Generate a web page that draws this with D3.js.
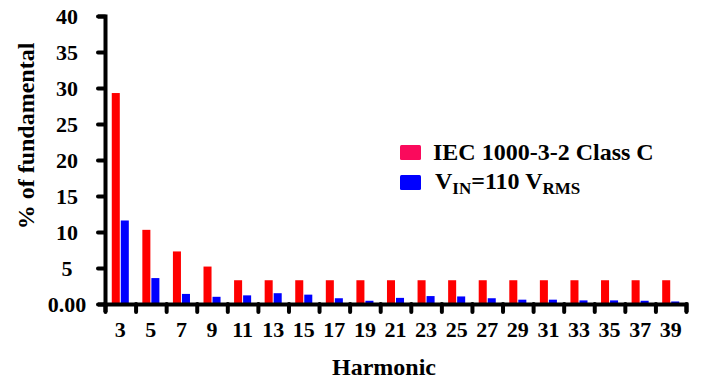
<!DOCTYPE html>
<html>
<head>
<meta charset="utf-8">
<script src="https://cdn.jsdelivr.net/npm/d3@7"></script>
<style>
  body { margin: 0; background: #fff; }
</style>
</head>
<body>
<svg class="chart" width="702" height="384"></svg>
<script>
// harmonic orders on the x axis
const harmonics = [3,5,7,9,11,13,15,17,19,21,23,25,27,29,31,33,35,37,39]
// IEC 1000-3-2 Class C limits (% of fundamental)
const iecLimit = [29.3,10.3,7.3,5.2,3.3,3.3,3.3,3.3,3.3,3.3,3.3,3.3,3.3,3.3,3.3,3.3,3.3,3.3,3.3]
// measured at VIN = 110 VRMS
const vinMeasured = [11.6,3.6,1.4,1.0,1.2,1.5,1.3,0.8,0.45,0.85,1.1,1.05,0.8,0.6,0.6,0.5,0.5,0.45,0.35]
const yTicks = [0,5,10,15,20,25,30,35,40]
const seriesKeys = ["iec","vin"]

const FONT = "Liberation Serif"
const margin = {top: 16, right: 16, bottom: 80, left: 105}
const width = 686 - margin.left,
      height = 304 - margin.top;

let svg = d3.select(".chart")
let chart = svg.append("g")
    .attr("transform", "translate(" + margin.left + "," + margin.top + ")");

let x = d3.scaleBand()//one band per harmonic, ticks sit on band edges
    .domain(harmonics)
    .range([0, width])
    .padding(0);
let x1 = d3.scaleBand()//red and blue bar inside a band
    .domain(seriesKeys)
    .range([0, x.bandwidth()])
    .paddingInner(0.11)
    .paddingOuter(0.75);
let xEdge = d3.scaleLinear()
    .domain([0, harmonics.length])
    .range([0, width]);
let y = d3.scaleLinear()
    .domain([0, 40])
    .range([height, 0]);

const colors = {iec: "#ff0000", vin: "#0000ff"}
const legendColors = {iec: "#fa0a5c", vin: "#0000ff"}

let groups = chart.selectAll("g.h")
    .data(harmonics.map((h, i) => ({h: h, iec: iecLimit[i], vin: vinMeasured[i]})))
    .enter().append("g")
    .attr("class", "h")
    .attr("transform", d => "translate(" + x(d.h) + ",0)");
groups.selectAll("rect")
    .data(d => seriesKeys.map(k => ({key: k, value: d[k]})))
    .enter().append("rect")
    .attr("x", d => x1(d.key))
    .attr("y", d => y(d.value))
    .attr("width", x1.bandwidth())
    .attr("height", d => height - y(d.value))
    .attr("fill", d => colors[d.key]);

// y axis, labels centred in the left margin like the original
let yAxis = chart.append("g")
    .call(d3.axisLeft(y).tickValues(yTicks).tickSize(7)
      .tickFormat(d => d === 0 ? "0.00" : d));
yAxis.selectAll(".tick text").attr("x", -38).attr("text-anchor", "middle");
// x axis: tick marks on band edges, labels at band centres
let xTickAxis = chart.append("g")
    .attr("transform", "translate(0," + height + ")")
    .call(d3.axisBottom(xEdge).tickValues(d3.range(harmonics.length + 1)).tickSize(8).tickFormat(""));
let xLabelAxis = chart.append("g")
    .attr("transform", "translate(0," + height + ")")
    .call(d3.axisBottom(x).tickSize(0).tickPadding(17));
xLabelAxis.select(".domain").remove();

[yAxis, xTickAxis, xLabelAxis].forEach(g => g.attr("font-family", FONT).attr("font-weight", "bold").attr("font-size", 22));
[yAxis, xTickAxis].forEach(g => {
  g.select(".domain").attr("stroke", "#000").attr("stroke-width", 4)
  g.selectAll(".tick line").attr("stroke", "#000").attr("stroke-width", 4).attr("stroke-linecap", "round")
})
chart.selectAll(".tick text").attr("fill", "#000");

// axis titles
svg.append("text")
    .attr("transform", "translate(34,136) rotate(-90)")
    .attr("text-anchor", "middle")
    .attr("font-family", FONT).attr("font-weight", "bold").attr("font-size", 24)
    .text("% of fundamental");
svg.append("text")
    .attr("x", 384)
    .attr("y", 375)
    .attr("text-anchor", "middle")
    .attr("font-family", FONT).attr("font-weight", "bold").attr("font-size", 24)
    .text("Harmonic");

// legend
let legend = svg.append("g").attr("transform", "translate(400,145)")
    .attr("font-family", FONT).attr("font-weight", "bold")
legend.append("rect").attr("x", 0).attr("y", 0).attr("width", 21).attr("height", 15).attr("rx", 1.5).attr("fill", legendColors.iec)
legend.append("rect").attr("x", 0).attr("y", 30).attr("width", 21).attr("height", 15).attr("rx", 1.5).attr("fill", legendColors.vin)
legend.append("text").attr("x", 33).attr("y", 15).attr("font-size", 24).text("IEC 1000-3-2 Class C")
let t2 = legend.append("text").attr("x", 35).attr("y", 44).attr("font-size", 24)
t2.append("tspan").text("V")
t2.append("tspan").attr("dy", 5).attr("font-size", 17).text("IN")
t2.append("tspan").attr("dy", -5).text("=110 V")
t2.append("tspan").attr("dy", 5).attr("font-size", 17).text("RMS")
</script>
</body>
</html>
